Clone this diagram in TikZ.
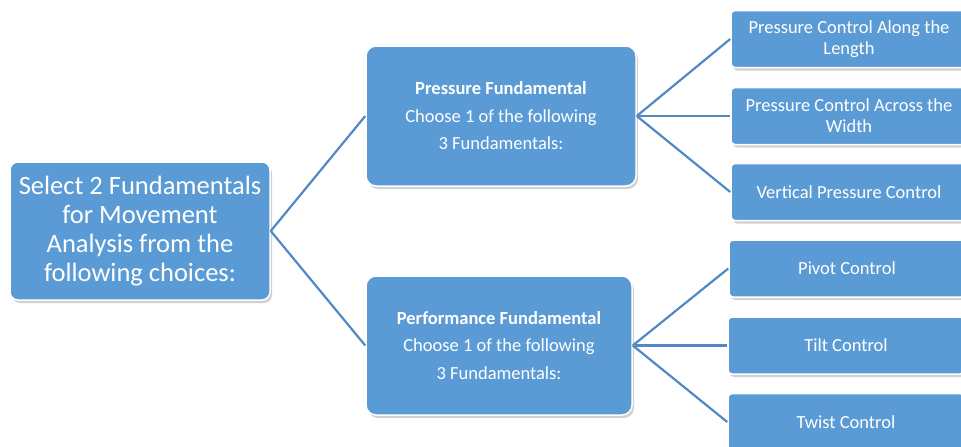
\documentclass[tikz,border=0pt]{standalone}
\usepackage{fontspec}
\setmainfont{Carlito}
\usetikzlibrary{shadows}
\definecolor{boxblue}{HTML}{5B9BD5}
\definecolor{lineblue}{HTML}{5089C4}
\tikzset{
  box/.style={draw=white, line width=1.5pt, fill=boxblue, text=white, align=center,
    drop shadow={shadow xshift=2pt, shadow yshift=-3pt, opacity=0.3, fill=black!60}},
  rootbox/.style={box, rounded corners=8pt, minimum width=260pt, minimum height=138pt,
    font=\fontsize{26.5}{29}\selectfont},
  midbox/.style={box, rounded corners=10pt, minimum height=140pt,
    font=\fontsize{18.5}{27.5}\selectfont},
  leafbox/.style={box, rounded corners=4pt, minimum width=236pt, minimum height=57pt,
    font=\fontsize{18.5}{21}\selectfont},
  conn/.style={draw=lineblue, line width=2.2pt}
}
\begin{document}
\begin{tikzpicture}[x=1pt,y=-1pt]
\useasboundingbox (0,0) rectangle (961,447);
\node[rootbox] (root) at (140,231) {Select 2 Fundamentals\\for Movement\\Analysis from the\\following choices:};
\node[midbox, minimum width=270pt] (press) at (501,116) {\textbf{Pressure Fundamental}\\Choose 1 of the following\\3 Fundamentals:};
\node[midbox, minimum width=266pt, minimum height=139pt] (perf) at (499,345.5) {\textbf{Performance Fundamental}\\Choose 1 of the following\\3 Fundamentals:};
\node[leafbox] (l1) at (849,39) {Pressure Control Along the\\Length};
\node[leafbox] (l2) at (849,116) {Pressure Control Across the\\Width};
\node[leafbox] (l3) at (849,192) {Vertical Pressure Control};
\node[leafbox] (l4) at (847,268.5) {Pivot Control};
\node[leafbox] (l5) at (846,345.5) {Tilt Control};
\node[leafbox] (l6) at (846,422) {Twist Control};
\draw[conn] (root.east) -- (press.west);
\draw[conn] (root.east) -- (perf.west);
\draw[conn] (press.east) -- (l1.west);
\draw[conn] (press.east) -- (l2.west);
\draw[conn] (press.east) -- (l3.west);
\draw[conn] (perf.east) -- (l4.west);
\draw[conn] (perf.east) -- (l5.west);
\draw[conn] (perf.east) -- (l6.west);
\end{tikzpicture}
\end{document}
